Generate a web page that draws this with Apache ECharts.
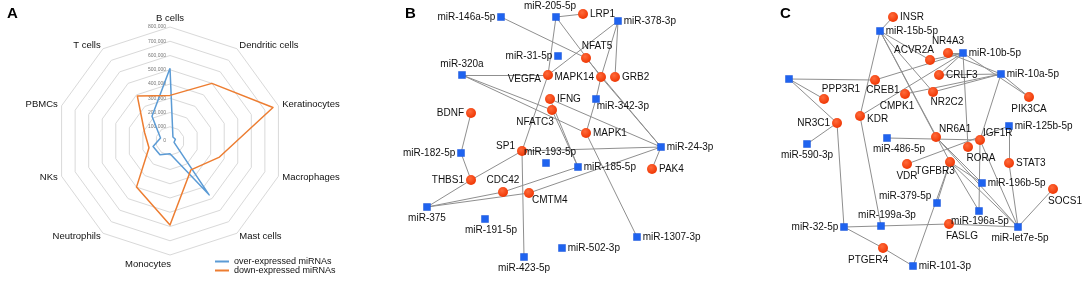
<!DOCTYPE html>
<html><head><meta charset="utf-8">
<script src="https://cdn.jsdelivr.net/npm/echarts@6/dist/echarts.min.js"></script>
<style>html,body{margin:0;padding:0;background:#fff}#c{width:1084px;height:281px}</style>
</head><body><div id="c"></div>
<script>
// ---------- Panel A: radar data ----------
var cellTypes = ['B cells','Dendritic cells','Keratinocytes','Macrophages','Mast cells','Monocytes','Neutrophils','NKs','PBMCs','T cells'];
var overExpressed = [510000, 35000, 40000, 30000, 467000, 90000, 120000, 125000, 70000, 215000];
var downExpressed = [320000, 500000, 760000, 365000, 250000, 590000, 400000, 155000, 187000, 390000];
var radarTicks = [0, 100000, 200000, 300000, 400000, 500000, 600000, 700000, 800000];
var seriesNames = ['over-expressed miRNAs', 'down-expressed miRNAs'];

// ---------- Panel B: network ----------
var nodesB = [
  ['miR-146a-5p', 501, 17, 'm'], ['miR-205-5p', 556, 17, 'm'], ['LRP1', 583, 14, 'g'],
  ['miR-378-3p', 618, 21, 'm'], ['miR-31-5p', 558, 56, 'm'], ['NFAT5', 586, 58, 'g'],
  ['miR-320a', 462, 75, 'm'], ['VEGFA', 548, 75, 'g'], ['MAPK14', 601, 77, 'g'],
  ['GRB2', 615, 77, 'g'], ['IFNG', 550, 99, 'g'], ['NFATC3', 552, 110, 'g'],
  ['miR-342-3p', 596, 99, 'm'], ['BDNF', 471, 113, 'g'], ['MAPK1', 586, 133, 'g'],
  ['miR-24-3p', 661, 147, 'm'], ['SP1', 522, 151, 'g'], ['miR-182-5p', 461, 153, 'm'],
  ['miR-193-5p', 546, 163, 'm'], ['miR-185-5p', 578, 167, 'm'], ['PAK4', 652, 169, 'g'],
  ['THBS1', 471, 180, 'g'], ['CDC42', 503, 192, 'g'], ['CMTM4', 529, 193, 'g'],
  ['miR-375', 427, 207, 'm'], ['miR-191-5p', 485, 219, 'm'], ['miR-1307-3p', 637, 237, 'm'],
  ['miR-502-3p', 562, 248, 'm'], ['miR-423-5p', 524, 257, 'm']
];
var edgesB = [
  ['miR-146a-5p','NFAT5'], ['NFAT5','miR-24-3p'], ['miR-205-5p','LRP1'], ['miR-205-5p','VEGFA'],
  ['miR-205-5p','MAPK14'], ['MAPK14','miR-24-3p'], ['miR-378-3p','VEGFA'], ['miR-378-3p','MAPK14'],
  ['miR-378-3p','GRB2'], ['miR-320a','VEGFA'], ['miR-320a','NFATC3'], ['miR-320a','MAPK1'],
  ['IFNG','miR-24-3p'], ['miR-342-3p','MAPK14'], ['miR-342-3p','MAPK1'], ['MAPK1','miR-1307-3p'],
  ['IFNG','miR-185-5p'], ['NFATC3','miR-185-5p'], ['BDNF','miR-182-5p'], ['miR-182-5p','THBS1'],
  ['THBS1','SP1'], ['THBS1','miR-375'], ['VEGFA','SP1'], ['SP1','miR-24-3p'], ['SP1','miR-423-5p'],
  ['miR-375','CDC42'], ['miR-375','CMTM4'], ['CDC42','miR-185-5p'], ['CMTM4','miR-24-3p'],
  ['PAK4','miR-24-3p']
];

// ---------- Panel C: network ----------
var nodesC = [
  ['INSR', 893, 17, 'g'], ['miR-15b-5p', 880, 31, 'm'], ['NR4A3', 948, 53, 'g'],
  ['miR-10b-5p', 963, 53, 'm'], ['ACVR2A', 930, 60, 'g'], ['CRLF3', 939, 75, 'g'],
  ['miR-10a-5p', 1001, 74, 'm'], ['unlabeled', 789, 79, 'm'], ['CREB1', 875, 80, 'g'],
  ['PPP3R1', 824, 99, 'g'], ['CMPK1', 905, 94, 'g'], ['NR2C2', 933, 92, 'g'],
  ['PIK3CA', 1029, 97, 'g'], ['NR3C1', 837, 123, 'g'], ['KDR', 860, 116, 'g'],
  ['miR-125b-5p', 1009, 126, 'm'], ['NR6A1', 936, 137, 'g'], ['IGF1R', 980, 140, 'g'],
  ['miR-486-5p', 887, 138, 'm'], ['RORA', 968, 147, 'g'], ['miR-590-3p', 807, 144, 'm'],
  ['VDR', 907, 164, 'g'], ['TGFBR3', 950, 162, 'g'], ['STAT3', 1009, 163, 'g'],
  ['miR-196b-5p', 982, 183, 'm'], ['SOCS1', 1053, 189, 'g'], ['miR-379-5p', 937, 203, 'm'],
  ['miR-196a-5p', 979, 211, 'm'], ['miR-32-5p', 844, 227, 'm'], ['miR-199a-3p', 881, 226, 'm'],
  ['FASLG', 949, 224, 'g'], ['miR-let7e-5p', 1018, 227, 'm'], ['PTGER4', 883, 248, 'g'],
  ['miR-101-3p', 913, 266, 'm']
];
var edgesC = [
  ['INSR','miR-15b-5p'], ['miR-15b-5p','KDR'], ['miR-15b-5p','ACVR2A'], ['miR-15b-5p','NR2C2'],
  ['miR-15b-5p','NR6A1'], ['miR-15b-5p','TGFBR3'], ['NR4A3','miR-10b-5p'], ['ACVR2A','miR-10b-5p'],
  ['CREB1','miR-10b-5p'], ['CRLF3','miR-10b-5p'], ['KDR','miR-10b-5p'], ['miR-10b-5p','RORA'],
  ['miR-10b-5p','PIK3CA'], ['miR-10a-5p','PIK3CA'], ['miR-10a-5p','CRLF3'], ['miR-10a-5p','CMPK1'],
  ['miR-10a-5p','NR2C2'], ['miR-10a-5p','NR4A3'], ['miR-10a-5p','IGF1R'], ['unlabeled','CREB1'],
  ['unlabeled','PPP3R1'], ['unlabeled','NR3C1'], ['NR3C1','miR-590-3p'], ['NR3C1','miR-32-5p'],
  ['KDR','miR-199a-3p'], ['miR-486-5p','IGF1R'], ['NR6A1','miR-let7e-5p'], ['NR6A1','miR-196b-5p'],
  ['TGFBR3','miR-let7e-5p'], ['TGFBR3','miR-196a-5p'], ['TGFBR3','miR-196b-5p'], ['IGF1R','miR-196a-5p'],
  ['IGF1R','miR-let7e-5p'], ['VDR','miR-125b-5p'], ['miR-125b-5p','STAT3'], ['STAT3','miR-let7e-5p'],
  ['SOCS1','miR-let7e-5p'], ['miR-32-5p','FASLG'], ['FASLG','miR-let7e-5p'], ['miR-32-5p','PTGER4'],
  ['PTGER4','miR-101-3p'], ['miR-101-3p','TGFBR3'], ['miR-379-5p','TGFBR3']
];

// ---------- label placement (style, kept apart from data) ----------
var labelPlace = {
  'miR-146a-5p':['left'], 'miR-205-5p':['top',[-6,0]], 'LRP1':['right'], 'miR-378-3p':['right'],
  'miR-31-5p':['left'], 'NFAT5':['top',[11,0]], 'miR-320a':['top'], 'VEGFA':['left',[0,4]],
  'MAPK14':['left'], 'GRB2':['right'], 'IFNG':['right'], 'NFATC3':['bottom',[-17,0]],
  'miR-342-3p':['right',[-5,7]], 'BDNF':['left'], 'MAPK1':['right'], 'miR-24-3p':['right'],
  'SP1':['left',[0,-5]], 'miR-182-5p':['left'], 'miR-193-5p':['top',[4,0]], 'miR-185-5p':['right'],
  'PAK4':['right'], 'THBS1':['left'], 'CDC42':['top'], 'CMTM4':['right',[-4,7]],
  'miR-375':['bottom'], 'miR-191-5p':['bottom',[6,0]], 'miR-1307-3p':['right'], 'miR-502-3p':['right'],
  'miR-423-5p':['bottom'],
  'INSR':['right'], 'miR-15b-5p':['right'], 'NR4A3':['top'], 'miR-10b-5p':['right'],
  'ACVR2A':['top',[-16,2]], 'CRLF3':['right'], 'miR-10a-5p':['right'], 'CREB1':['bottom',[8,-2]],
  'PPP3R1':['top',[17,2]], 'CMPK1':['bottom',[-8,0]], 'NR2C2':['bottom',[14,-2]], 'PIK3CA':['bottom'],
  'NR3C1':['left'], 'KDR':['right',[0,3]], 'miR-125b-5p':['right'], 'NR6A1':['right',[-4,-8]],
  'IGF1R':['right',[-4,-7]], 'miR-486-5p':['bottom',[12,0]], 'RORA':['bottom',[13,-1]],
  'miR-590-3p':['bottom'], 'VDR':['bottom'], 'TGFBR3':['bottom',[-15,-3]], 'STAT3':['right'],
  'miR-196b-5p':['right'], 'SOCS1':['bottom',[12,0]], 'miR-379-5p':['left',[0,-7]],
  'miR-196a-5p':['bottom',[1,-1]], 'miR-32-5p':['left'], 'miR-199a-3p':['top',[6,0]],
  'FASLG':['bottom',[13,0]], 'miR-let7e-5p':['bottom',[2,0]], 'PTGER4':['bottom',[-15,0]],
  'miR-101-3p':['right']
};

var GENE_COLOR = '#f5400c', MIR_COLOR = '#1f63ef', EDGE_COLOR = '#8f8f8f';

function buildNodes(list) {
  return list.map(function (n) {
    var isGene = n[3] === 'g';
    var lp = labelPlace[n[0]] || ['right'];
    return {
      name: n[0],
      value: [n[1], n[2]],
      symbol: isGene ? 'circle' : 'rect',
      symbolSize: isGene ? 10 : 7,
      itemStyle: isGene ? {
        color: { type: 'radial', x: 0.4, y: 0.35, r: 0.7,
          colorStops: [{offset: 0, color: '#ff6a3a'}, {offset: 1, color: '#ee3300'}] }
      } : { color: MIR_COLOR, borderColor: '#1a55d8', borderWidth: 0.5 },
      label: {
        show: n[0] !== 'unlabeled',
        position: lp[0],
        offset: lp[1] || [0, 0],
        distance: 2,
        color: '#111',
        fontSize: 10,
        fontFamily: 'Liberation Sans, Arial, sans-serif'
      }
    };
  });
}
function buildLinks(list) {
  return list.map(function (e) { return { source: e[0], target: e[1] }; });
}

// radar: ECharts places indicators counter-clockwise, reorder to run clockwise as in the source
var order = [0].concat(cellTypes.map(function (_, i) { return i; }).slice(1).reverse());
var indicators = order.map(function (i) { return { name: cellTypes[i], min: 0, max: 800000 }; });
var overVals = order.map(function (i) { return overExpressed[i]; });
var downVals = order.map(function (i) { return downExpressed[i]; });

var chart = echarts.init(document.getElementById('c'), null, { renderer: 'canvas' });
chart.setOption({
  animation: false,
  backgroundColor: '#ffffff',
  title: [
    { text: 'A', left: 2, top: 1, textStyle: { fontSize: 15, fontWeight: 'bold', color: '#000', fontFamily: 'Liberation Sans, Arial' } },
    { text: 'B', left: 400, top: 1, textStyle: { fontSize: 15, fontWeight: 'bold', color: '#000', fontFamily: 'Liberation Sans, Arial' } },
    { text: 'C', left: 775, top: 1, textStyle: { fontSize: 15, fontWeight: 'bold', color: '#000', fontFamily: 'Liberation Sans, Arial' } }
  ],
  legend: {
    data: seriesNames,
    orient: 'vertical',
    left: 215, top: 257,
    itemWidth: 14, itemHeight: 2, itemGap: 0,
    icon: 'rect',
    textStyle: { fontSize: 9, color: '#111', fontFamily: 'Liberation Sans, Arial' },
    padding: 0
  },
  radar: {
    center: [170, 141],
    radius: 114,
    startAngle: 90,
    shape: 'polygon',
    splitNumber: 8,
    indicator: indicators,
    nameGap: 4,
    axisName: {
      color: '#111', fontSize: 9.5, fontFamily: 'Liberation Sans, Arial',
      formatter: function (name) { return name === 'Monocytes' ? '{m|' + name + '}' : name; },
      rich: { m: { padding: [0, 44, 0, 0], fontSize: 9.5, color: '#111' } }
    },
    axisLine: { show: false },
    axisTick: { show: false },
    axisLabel: { show: false },
    splitArea: { show: false },
    splitLine: { lineStyle: { color: '#d9d9d9', width: 1 } }
  },
  grid: [
    { left: 170, top: 27, width: 1, height: 114 },
    { left: 0, top: 0, width: 1084, height: 281 }
  ],
  xAxis: [
    { gridIndex: 0, type: 'value', show: false },
    { gridIndex: 1, type: 'value', min: 0, max: 1084, show: false }
  ],
  yAxis: [
    { gridIndex: 0, type: 'value', min: radarTicks[0], max: radarTicks[radarTicks.length - 1],
      interval: radarTicks[1] - radarTicks[0],
      axisLine: { show: false }, axisTick: { show: false }, splitLine: { show: false },
      axisLabel: { fontSize: 5, color: '#777', margin: 4, fontFamily: 'Liberation Sans, Arial' } },
    { gridIndex: 1, type: 'value', min: 0, max: 281, inverse: true, show: false }
  ],
  series: [
    {
      type: 'radar',
      symbol: 'none',
      data: [
        { name: seriesNames[0], value: overVals, lineStyle: { color: '#5b9bd5', width: 1.5 }, itemStyle: { color: '#5b9bd5' } },
        { name: seriesNames[1], value: downVals, lineStyle: { color: '#ed7d31', width: 1.5 }, itemStyle: { color: '#ed7d31' } }
      ]
    },
    {
      type: 'graph', coordinateSystem: 'cartesian2d', xAxisIndex: 1, yAxisIndex: 1,
      data: buildNodes(nodesB), links: buildLinks(edgesB),
      lineStyle: { color: EDGE_COLOR, width: 1, opacity: 1 },
      emphasis: { disabled: true }
    },
    {
      type: 'graph', coordinateSystem: 'cartesian2d', xAxisIndex: 1, yAxisIndex: 1,
      data: buildNodes(nodesC), links: buildLinks(edgesC),
      lineStyle: { color: EDGE_COLOR, width: 1, opacity: 1 },
      emphasis: { disabled: true }
    }
  ]
});
</script></body></html>
